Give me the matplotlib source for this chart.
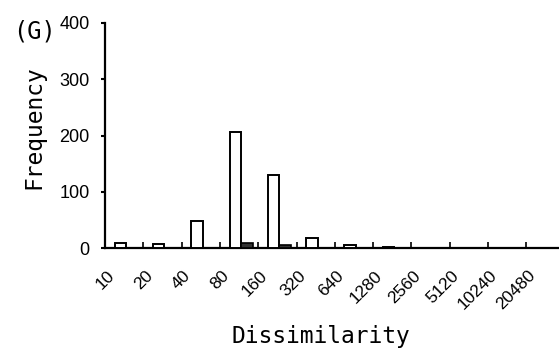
import matplotlib
matplotlib.use("Agg")
import matplotlib.pyplot as plt
import matplotlib.transforms as mtransforms
import numpy as np

categories = ["10", "20", "40", "80", "160", "320", "640", "1280",
              "2560", "5120", "10240", "20480"]
open_values = [10, 8, 48, 207, 130, 19, 6, 3, 0, 0, 0, 0]
dark_values = [0, 0, 0, 10, 5, 0, 0, 0, 0, 0, 0, 0]
y_ticks = [0, 100, 200, 300, 400]

W, H = 559, 355
fig = plt.figure(figsize=(W / 100, H / 100), dpi=100)
ax = fig.add_axes([105 / W, 1 - 248.3 / H, 1 - 105 / W, (248.3 - 22.7) / H])

sans = ['Liberation Sans', 'DejaVu Sans']
mono = ['DejaVu Sans Mono']

x = np.arange(len(categories))
w = 0.30
ax.bar(x - 0.10, open_values, width=w, color='white', edgecolor='black',
       linewidth=1.4, zorder=3)
ax.bar(x + 0.20, dark_values, width=w, color='#333333', edgecolor='black',
       linewidth=1.2, zorder=3)

ax.set_xlim(-0.5, 11.35)
ax.set_ylim(0, 400)
ax.set_yticks(y_ticks)
ax.set_yticklabels([str(v) for v in y_ticks], family=sans, fontsize=13)

ax.set_xticks(x)
ax.set_xticklabels(categories, family=sans, fontsize=12.5, rotation=45,
                   ha='right', va='top')
ax.set_xticks(np.arange(len(categories) - 1) + 0.5, minor=True)
ax.tick_params(axis='x', which='major', length=0, pad=14)
ax.tick_params(axis='x', which='minor', direction='in', length=4, width=1.2)
ax.tick_params(axis='y', direction='out', length=3, width=1.5, pad=8)

offset = mtransforms.ScaledTranslation(-7 / 100, 0, fig.dpi_scale_trans)
for lab in ax.get_xticklabels():
    lab.set_transform(lab.get_transform() + offset)

for s in ['top', 'right']:
    ax.spines[s].set_visible(False)
for s in ['left', 'bottom']:
    ax.spines[s].set_linewidth(1.6)

fig.text(13 / W, 1 - 32 / H, "(G)", family=mono, fontsize=17,
         ha='left', va='center')
fig.text(34 / W, 1 - 127.5 / H, "Frequency", family=mono, fontsize=16.5,
         rotation=90, ha='center', va='center')
fig.text(321 / W, 1 - 336 / H, "Dissimilarity", family=mono, fontsize=16.5,
         ha='center', va='center')

fig.savefig("out.png", dpi=100)
